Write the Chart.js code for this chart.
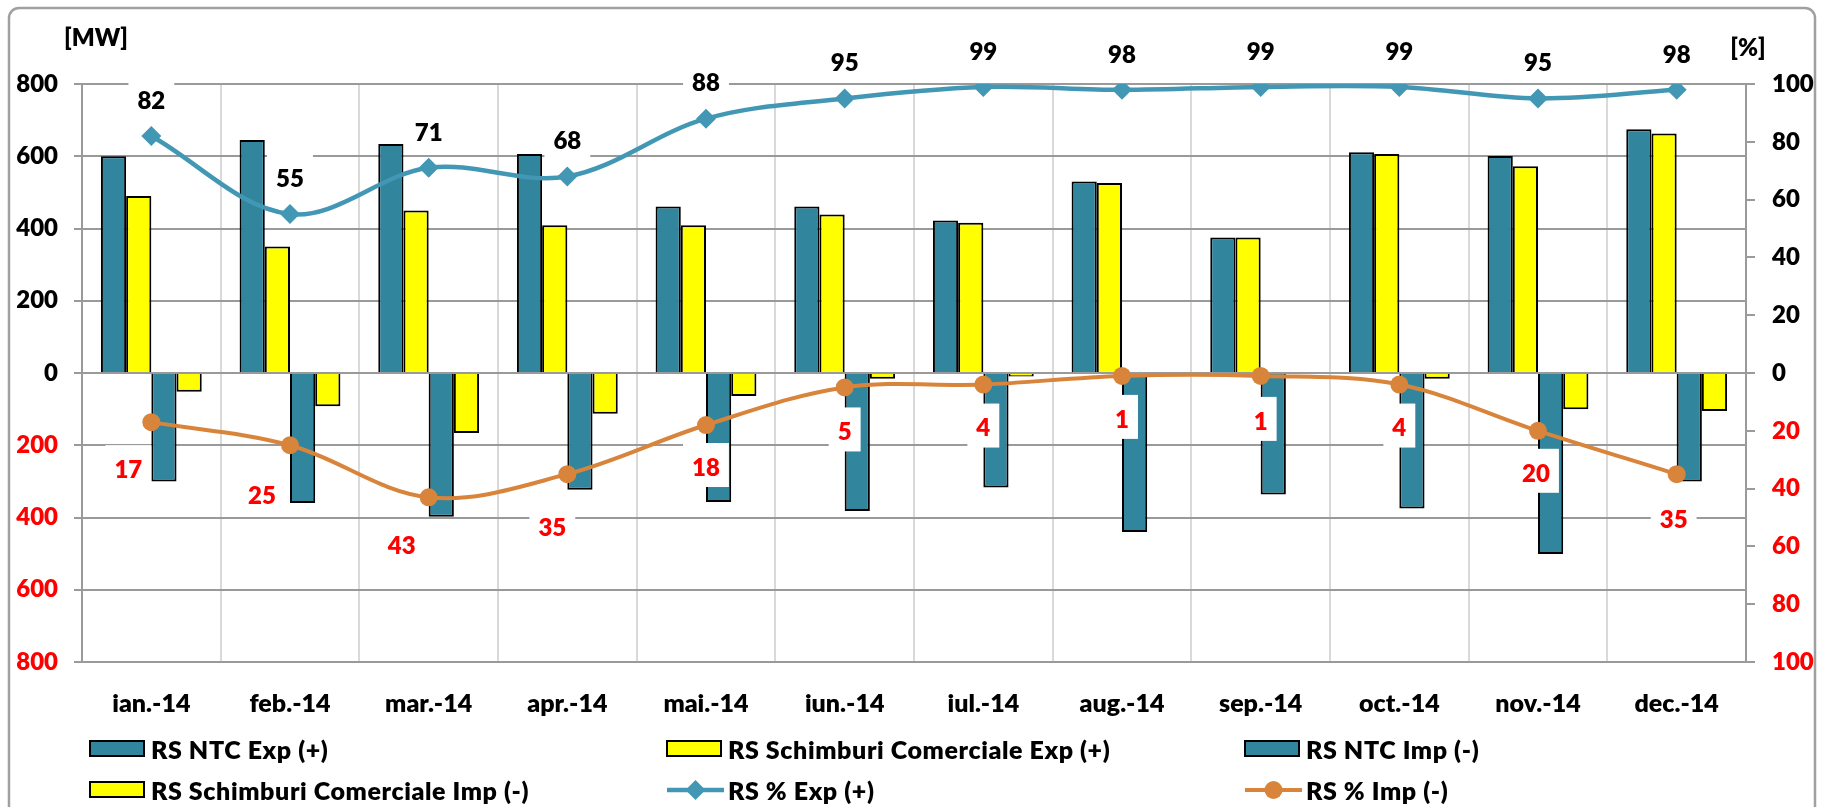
<!DOCTYPE html>
<html>
<head>
<meta charset="utf-8">
<script src="https://cdn.jsdelivr.net/npm/chart.js@4/dist/chart.umd.min.js"></script>
<style>
  html, body { margin: 0; padding: 0; background: #ffffff; }
  #wrap { position: relative; width: 1821px; height: 807px; }
  canvas { display: block; }
</style>
</head>
<body>
<div id="wrap"><canvas id="c" width="1821" height="807"></canvas></div>
<script>
// ---------------- DATA ----------------
const categories = ['ian.-14', 'feb.-14', 'mar.-14', 'apr.-14', 'mai.-14', 'iun.-14',
                    'iul.-14', 'aug.-14', 'sep.-14', 'oct.-14', 'nov.-14', 'dec.-14'];
const ntcExp = [600, 645, 634, 606, 461, 461, 422, 530, 375, 611, 601, 675];
const schExp = [490, 350, 450, 409, 409, 439, 416, 526, 375, 606, 572, 663];
const ntcImp = [-300, -360, -398, -323, -357, -382, -317, -440, -336, -375, -501, -300];
const schImp = [-52, -92, -166, -113, -64, -16, -10, 0, 0, -16, -100, -105];
const pctExp = [82, 55, 71, 68, 88, 95, 99, 98, 99, 99, 95, 98];
const pctImp = [-17, -25, -43, -35, -18, -5, -4, -1, -1, -4, -20, -35];
const mwTicks = [-800, -600, -400, -200, 0, 200, 400, 600, 800];
const pctTicks = [-100, -80, -60, -40, -20, 0, 20, 40, 60, 80, 100];
const seriesNames = ['RS NTC Exp (+)', 'RS Schimburi Comerciale Exp (+)', 'RS NTC Imp (-)',
                     'RS Schimburi Comerciale Imp (-)', 'RS % Exp (+)', 'RS % Imp (-)'];
const leftUnit = '[MW]';
const rightUnit = '[%]';

// ---------------- STYLE ----------------
const FONT = 'Lato, "Open Sans", sans-serif';
const WEIGHT = '800';
const TEAL_BAR = '#31859C';
const YELLOW = '#FFFF00';
const TEAL_LINE = '#4298B4';
const ORANGE = '#D9843B';
const RED = '#FF0000';
const GRID = '#9a9a9a';
const VGRID = '#d9d9d9';

const absTick = v => String(Math.abs(v));
const signColor = ctx => (ctx.tick && ctx.tick.value < 0) ? RED : '#000000';

const bgPlugin = {
  id: 'bgBorder',
  beforeDraw(chart) {
    const ctx = chart.ctx;
    ctx.save();
    ctx.fillStyle = '#ffffff';
    ctx.fillRect(0, 0, chart.width, chart.height);
    ctx.strokeStyle = '#a0a0a0';
    ctx.lineWidth = 2.5;
    ctx.beginPath();
    ctx.roundRect(9, 8, 1806, 900, 10);
    ctx.stroke();
    ctx.restore();
  },
  afterDraw(chart) {
    const ctx = chart.ctx;
    ctx.save();
    ctx.font = WEIGHT + ' 24px ' + FONT;
    ctx.fillStyle = '#000';
    ctx.textAlign = 'center';
    ctx.textBaseline = 'middle';
    ctx.fillText(leftUnit, 96, 38);
    ctx.fillText(rightUnit, 1748, 48);
    ctx.restore();
  }
};

const labelPlugin = {
  id: 'pctLabels',
  afterDatasetsDraw(chart, args, opts) {
    const ctx = chart.ctx;
    ctx.save();
    ctx.font = WEIGHT + ' 24px ' + FONT;
    ctx.textAlign = 'center';
    ctx.textBaseline = 'middle';
    opts.series.forEach(s => {
      const meta = chart.getDatasetMeta(s.index);
      const data = chart.data.datasets[s.index].data;
      meta.data.forEach((pt, i) => {
        const txt = String(Math.abs(data[i]));
        const x = pt.x + (s.dx ? s.dx[i] : 0);
        const y = pt.y + (Array.isArray(s.dy) ? s.dy[i] : s.dy);
        const w = ctx.measureText(txt).width + 18;
        ctx.fillStyle = '#ffffff';
        ctx.fillRect(x - w / 2, y - 24, w, 44);
        ctx.fillStyle = s.color;
        ctx.fillText(txt, x, y + 1);
      });
    });
    ctx.restore();
  }
};

const legendPlugin = {
  id: 'gridLegend',
  afterDraw(chart, args, opts) {
    const ctx = chart.ctx;
    ctx.save();
    ctx.font = WEIGHT + ' 25px ' + FONT;
    ctx.letterSpacing = '0.6px';
    ctx.textBaseline = 'middle';
    ctx.textAlign = 'left';
    chart.data.datasets.forEach((ds, i) => {
      const col = i % 3, row = Math.floor(i / 3);
      const x = opts.cols[col], y = opts.rows[row];
      if (ds.type === 'line') {
        const cy = y - 2, cx = x + 28.5;
        ctx.strokeStyle = ds.borderColor;
        ctx.lineWidth = ds.borderWidth;
        ctx.beginPath();
        ctx.moveTo(x, cy);
        ctx.lineTo(x + 57, cy);
        ctx.stroke();
        ctx.fillStyle = ds.pointBackgroundColor;
        ctx.beginPath();
        const r = ds.pointRadius;
        if (ds.pointStyle === 'circle') {
          ctx.arc(cx, cy, r, 0, Math.PI * 2);
        } else {
          ctx.moveTo(cx - r, cy);
          ctx.lineTo(cx, cy - r);
          ctx.lineTo(cx + r, cy);
          ctx.lineTo(cx, cy + r);
          ctx.closePath();
        }
        ctx.fill();
      } else {
        ctx.fillStyle = ds.backgroundColor;
        ctx.fillRect(x, y - 10, 54, 15);
        ctx.strokeStyle = '#000';
        ctx.lineWidth = 2;
        ctx.strokeRect(x, y - 10, 54, 15);
      }
      ctx.fillStyle = '#000';
      ctx.fillText(ds.label, x + 61, y);
    });
    ctx.restore();
  }
};

const barCommon = {
  type: 'bar', yAxisID: 'y', borderColor: '#000000', borderWidth: 2,
  borderSkipped: 'start', categoryPercentage: 0.727, barPercentage: 1.0, order: 2
};

new Chart(document.getElementById('c'), {
  type: 'bar',
  data: {
    labels: categories,
    datasets: [
      Object.assign({ label: seriesNames[0], data: ntcExp, backgroundColor: TEAL_BAR }, barCommon),
      Object.assign({ label: seriesNames[1], data: schExp, backgroundColor: YELLOW }, barCommon),
      Object.assign({ label: seriesNames[2], data: ntcImp, backgroundColor: TEAL_BAR }, barCommon),
      Object.assign({ label: seriesNames[3], data: schImp, backgroundColor: YELLOW }, barCommon),
      { type: 'line', label: seriesNames[4], data: pctExp, yAxisID: 'y1', order: 1,
        borderColor: TEAL_LINE, borderWidth: 4.5, tension: 0.35, fill: false,
        pointStyle: 'rectRot', pointRadius: 10, pointBackgroundColor: TEAL_LINE,
        pointBorderColor: TEAL_LINE, pointBorderWidth: 0 },
      { type: 'line', label: seriesNames[5], data: pctImp, yAxisID: 'y1', order: 0,
        borderColor: ORANGE, borderWidth: 4, tension: 0.35, fill: false,
        pointStyle: 'circle', pointRadius: 9, pointBackgroundColor: ORANGE,
        pointBorderColor: ORANGE, pointBorderWidth: 0 }
    ]
  },
  options: {
    responsive: false,
    animation: false,
    devicePixelRatio: 1,
    layout: { padding: { top: 84, left: 0, right: 0, bottom: 0 } },
    plugins: {
      legend: { display: false },
      tooltip: { enabled: false },
      pctLabels: {
        series: [
          { index: 4, color: '#000000', dy: -36 },
          { index: 5, color: RED,
            dx: [-23, -28, -27, -15, 0, 0, 0, 0, 0, 0, -2, -3],
            dy: [47, 50, 48, 53, 42, 44, 43, 43, 45, 43, 42, 45] }
        ]
      },
      gridLegend: { cols: [90, 667, 1245], rows: [751, 792] }
    },
    scales: {
      x: {
        type: 'category',
        offset: true,
        grid: { color: VGRID, lineWidth: 2, drawTicks: false, offset: true },
        border: { color: GRID, width: 2 },
        ticks: { color: '#000', font: { family: FONT, size: 25, weight: WEIGHT }, padding: 27, maxRotation: 0 },
        afterFit: s => { s.height = 145; }
      },
      y: {
        position: 'left',
        min: -800, max: 800,
        afterBuildTicks: s => { s.ticks = mwTicks.map(v => ({ value: v })); },
        grid: { color: GRID, lineWidth: 2, tickLength: 8, drawTicks: true },
        border: { color: GRID, width: 2 },
        ticks: { callback: absTick, color: signColor, padding: 16,
                 font: { family: FONT, size: 24, weight: WEIGHT } },
        afterFit: s => { s.width = 82; }
      },
      y1: {
        position: 'right',
        min: -100, max: 100,
        afterBuildTicks: s => { s.ticks = pctTicks.map(v => ({ value: v })); },
        grid: { drawOnChartArea: false, color: GRID, lineWidth: 2, tickLength: 9, drawTicks: true },
        border: { color: GRID, width: 2 },
        ticks: { callback: absTick, color: signColor, padding: 17,
                 font: { family: FONT, size: 24, weight: WEIGHT } },
        afterFit: s => { s.width = 75; }
      }
    }
  },
  plugins: [bgPlugin, labelPlugin, legendPlugin]
});
</script>
</body>
</html>
